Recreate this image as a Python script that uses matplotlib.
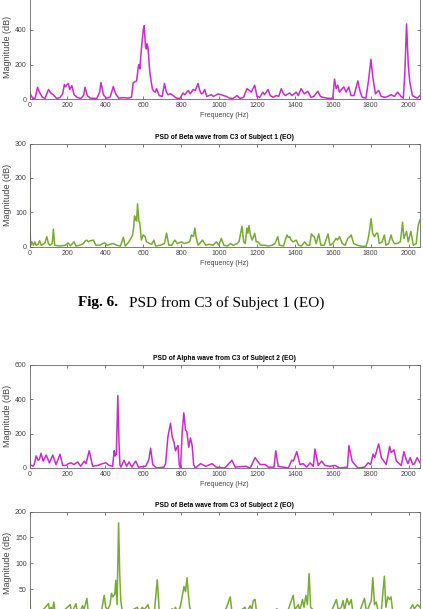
import numpy as np
import matplotlib.pyplot as plt

plt.rcParams['font.family'] = ['Liberation Sans', 'DejaVu Sans']

# PSD of Alpha wave, C3, Subject 1 (EO)
f1a = [0, 8, 18, 30, 42, 55, 68, 82, 100, 112, 125, 144, 160, 175, 184, 190, 196, 205, 212, 223,
       235, 250, 270, 285, 293, 305, 320, 355, 370, 377, 390, 405, 425, 442, 455, 470, 500, 520,
       538, 547, 558, 565, 572, 577, 582, 591, 600, 605, 612, 617, 620, 625, 635, 648, 655, 663,
       670, 684, 700, 712, 722, 731, 745, 758, 775, 793, 810, 820, 837, 848, 863, 875, 889, 898,
       907, 915, 924, 935, 948, 959, 970, 980, 995, 1010, 1025, 1038, 1055, 1073, 1095, 1110,
       1130, 1147, 1160, 1170, 1188, 1200, 1215, 1231, 1240, 1258, 1270, 1285, 1301, 1315, 1328,
       1340, 1350, 1372, 1385, 1407, 1418, 1433, 1450, 1468, 1485, 1500, 1521, 1535, 1547, 1570,
       1585, 1600, 1609, 1618, 1626, 1635, 1645, 1658, 1670, 1684, 1696, 1712, 1732, 1745, 1755,
       1775, 1790, 1801, 1812, 1825, 1842, 1855, 1875, 1890, 1907, 1925, 1942, 1960, 1972, 1980,
       1989, 1998, 2006, 2020, 2045, 2060]
m1a = [45, 20, 3, 5, 68, 35, 10, 3, 55, 35, 25, 3, 8, 30, 85, 70, 80, 90, 55, 78,
       25, 10, 3, 20, 68, 20, 5, 3, 40, 95, 25, 5, 10, 72, 30, 5, 8, 5,
       10, 95, 100, 105, 170, 200, 175, 300, 400, 425, 300, 290, 320, 300, 150, 60, 45, 40,
       60, 20, 15, 90, 40, 25, 30, 20, 5, 3, 35, 25, 50, 30, 55, 50, 90, 50,
       30, 35, 55, 15, 20, 25, 15, 20, 30, 25, 20, 15, 5, 3, 20, 3,
       10, 60, 50, 40, 80, 15, 10, 40, 25, 55, 20, 10, 20, 15, 60,
       30, 20, 35, 20, 40, 20, 60, 30, 45, 10, 15, 45, 15, 10, 5,
       3, 5, 115, 60, 80, 40, 55, 70, 40, 70, 20, 20, 105, 40, 10,
       5, 120, 230, 120, 30, 50, 15, 10, 15, 25, 15, 40, 15, 5, 150,
       435, 200, 100, 20, 5, 20]

# PSD of Beta wave, C3, Subject 1 (EO)
f1b = [0, 3, 6, 12, 21, 28, 35, 45, 53, 62, 82, 91, 100, 108, 120, 126, 133, 160, 188, 205,
       215, 235, 245, 265, 284, 295, 302, 310, 320, 337, 350, 372, 385, 398, 410, 425, 442, 460,
       480, 495, 505, 520, 530, 540, 544, 550, 554, 560, 565, 570, 574, 577, 582, 590, 600, 610,
       617, 635, 645, 656, 665, 690, 712, 723, 735, 750, 767, 780, 790, 802, 815, 830, 845, 854,
       865, 872, 880, 890, 912, 930, 950, 968, 986, 998, 1012, 1025, 1045, 1060, 1075, 1095,
       1105, 1121, 1130, 1138, 1147, 1152, 1158, 1165, 1175, 1188, 1196, 1205, 1220, 1240, 1260,
       1280, 1295, 1310, 1318, 1340, 1358, 1365, 1372, 1380, 1390, 1407, 1420, 1435, 1451, 1465,
       1478, 1487, 1495, 1502, 1512, 1526, 1537, 1555, 1575, 1585, 1600, 1617, 1625, 1635, 1650,
       1665, 1679, 1690, 1697, 1710, 1730, 1755, 1775, 1785, 1793, 1802, 1810, 1820, 1830, 1837,
       1845, 1860, 1872, 1880, 1895, 1907, 1915, 1925, 1940, 1956, 1962, 1968, 1975, 1982, 1989,
       1998, 2005, 2012, 2025, 2040, 2050, 2060]
m1b = [225, 60, 5, 15, 5, 15, 5, 8, 18, 5, 12, 30, 10, 5, 10, 52, 5, 3, 5, 12,
       3, 15, 3, 5, 10, 18, 20, 15, 18, 20, 5, 5, 10, 12, 5, 8, 10, 5,
       3, 28, 3, 12, 20, 30, 35, 60, 90, 80, 75, 125, 95, 75, 70, 20, 35, 30,
       15, 10, 8, 20, 3, 5, 10, 40, 5, 5, 20, 10, 12, 15, 10, 12, 15, 35,
       30, 55, 25, 5, 20, 5, 8, 5, 15, 5, 25, 5, 3, 10, 5, 10,
       15, 60, 15, 10, 55, 40, 62, 35, 20, 40, 15, 15, 5, 5, 3,
       5, 10, 30, 5, 3, 35, 28, 30, 20, 15, 20, 5, 3, 15, 5,
       5, 38, 32, 30, 10, 38, 5, 5, 38, 5, 10, 25, 20, 30, 10,
       5, 25, 30, 35, 10, 5, 2, 2, 20, 45, 82, 40, 30, 40, 40,
       10, 15, 35, 5, 10, 35, 20, 10, 10, 15, 40, 72, 25, 35, 45,
       15, 30, 45, 5, 10, 60, 80]

# PSD of Alpha wave, C3, Subject 2 (EO)
f2a = [0, 5, 12, 18, 25, 35, 45, 52, 61, 72, 88, 105, 123, 140, 161, 175, 193, 205, 219, 235,
       254, 270, 289, 298, 315, 325, 333, 359, 385, 403, 420, 438, 447, 452, 458, 466, 472, 477,
       482, 499, 512, 525, 540, 560, 575, 613, 630, 639, 650, 670, 709, 718, 730, 744, 753, 762,
       770, 778, 783, 790, 797, 805, 814, 823, 830, 840, 849, 858, 866, 875, 902, 930, 963, 985,
       1030, 1068, 1085, 1140, 1165, 1190, 1217, 1243, 1260, 1290, 1299, 1312, 1366, 1383, 1392,
       1410, 1427, 1444, 1462, 1480, 1497, 1506, 1523, 1541, 1558, 1585, 1611, 1637, 1677, 1685,
       1702, 1716, 1733, 1768, 1786, 1800, 1812, 1821, 1842, 1856, 1882, 1900, 1908, 1923, 1935,
       1961, 1975, 1987, 1996, 2008, 2022, 2031, 2045, 2060]
m2a = [180, 15, 15, 10, 20, 70, 45, 50, 85, 40, 75, 30, 75, 20, 80, 15, 15, 25, 30, 20,
       35, 10, 40, 25, 100, 50, 10, 15, 25, 30, 15, 10, 100, 70, 80, 420, 150, 20,
       5, 45, 10, 35, 5, 40, 5, 10, 50, 115, 20, 0, 5, 25, 180, 260, 180, 150,
       100, 120, 130, 20, 0, 200, 320, 220, 210, 120, 175, 130, 20, 0, 25, 10, 25, 5,
       0, 45, 5, 10, 0, 60, 20, 20, 5, 5, 100, 10, 0, 45, 40,
       95, 20, 25, 5, 30, 10, 110, 15, 40, 15, 10, 15, 0, 5, 130,
       40, 20, 0, 5, 30, 20, 80, 60, 140, 60, 20, 125, 90, 105, 40,
       15, 95, 50, 25, 60, 20, 25, 60, 30]

# PSD of Beta wave, C3, Subject 2 (EO)
f2b = [0, 5, 20, 60, 100, 107, 114, 120, 128, 135, 170, 215, 222, 230, 245, 252, 265, 280, 287, 303,
       310, 340, 380, 394, 402, 412, 425, 432, 440, 450, 455, 462, 470, 476, 481, 490, 520, 545,
       569, 578, 595, 605, 625, 635, 660, 674, 685, 720, 753, 760, 770, 780, 795, 805, 815, 823,
       831, 838, 845, 855, 900, 960, 1000, 1024, 1040, 1059, 1068, 1100, 1137, 1145, 1164, 1172,
       1181, 1190, 1198, 1230, 1269, 1285, 1304, 1320, 1335, 1360, 1391, 1400, 1418, 1425, 1430,
       1440, 1448, 1458, 1466, 1475, 1483, 1496, 1515, 1549, 1590, 1619, 1629, 1645, 1654, 1662,
       1675, 1685, 1697, 1706, 1740, 1767, 1778, 1794, 1803, 1811, 1820, 1829, 1838, 1855, 1872,
       1880, 1890, 1899, 1907, 1915, 1940, 1969, 1985, 2000, 2021, 2030, 2047, 2060]
m2b = [55, 10, 5, 5, 22, 5, 15, 5, 25, 5, 5, 20, 5, 10, 22, 5, 5, 18, 10, 32,
       5, 5, 8, 38, 15, 10, 20, 42, 35, 40, 67, 20, 178, 80, 30, 5, 5, 10,
       15, 5, 15, 10, 20, 5, 10, 68, 5, 5, 12, 5, 15, 5, 15, 35, 55, 45,
       72, 40, 15, 5, 5, 8, 5, 5, 15, 35, 5, 5, 15, 5, 18, 10,
       28, 30, 5, 5, 10, 5, 12, 8, 5, 5, 38, 10, 20, 10, 15,
       30, 15, 38, 20, 80, 15, 10, 5, 5, 5, 30, 10, 15, 28, 10,
       32, 20, 30, 5, 5, 32, 5, 20, 28, 72, 20, 25, 10, 5, 75,
       15, 35, 30, 35, 10, 5, 10, 5, 5, 20, 12, 20, 15]

titles = [None,
          'PSD of Beta wave from C3 of Subject 1 (EO)',
          'PSD of Alpha wave from C3 of Subject 2 (EO)',
          'PSD of Beta wave from C3 of Subject 2 (EO)']
ymax = [600, 300, 600, 200]
ystep = [200, 100, 200, 50]

MAG = '#c92ccb'
GRN = '#77ac30'

W, H = 423, 609
fig = plt.figure(figsize=(W / 100, H / 100), dpi=100)

# axes bottoms in pixels from top of image
bottoms = [99, 247, 468, 615]
series = [(f1a, m1a, MAG), (f1b, m1b, GRN), (f2a, m2a, MAG), (f2b, m2b, GRN)]

for i in range(4):
    ax = fig.add_axes([29.5 / W, (H - bottoms[i]) / H, 390.5 / W, 103.5 / H])
    f, m, c = series[i]
    ax.plot(f, m, color=c, lw=1.1)
    ax.set_xlim(0, 2060)
    ax.set_ylim(0, ymax[i])
    ax.set_xticks(np.arange(0, 2001, 200))
    ax.set_yticks(np.arange(0, ymax[i] + 1, ystep[i]))
    ax.tick_params(direction='in', top=True, right=True, length=2.5, width=0.5,
                   labelsize=5, colors='#444444', pad=2)
    for s in ax.spines.values():
        s.set_color('#666666')
        s.set_linewidth(0.6)
    ax.set_xlabel('Frequency (Hz)', fontsize=5, color='#444444', labelpad=2)
    ax.set_ylabel('Magnitude (dB)', fontsize=6.5, color='#444444', labelpad=2)
    if titles[i]:
        ax.set_title(titles[i], fontsize=4.8, fontweight='bold', pad=3)

fig.text(118 / W, 1 - 303 / H, 'Fig. 6.', ha='right', va='center',
         fontsize=11, fontweight='bold', family=['Liberation Serif', 'DejaVu Serif'])
fig.text(129 / W, 1 - 303 / H, 'PSD from C3 of Subject 1 (EO)', ha='left', va='center',
         fontsize=11, family=['Liberation Serif', 'DejaVu Serif'])

fig.savefig('out.png', dpi=100)
